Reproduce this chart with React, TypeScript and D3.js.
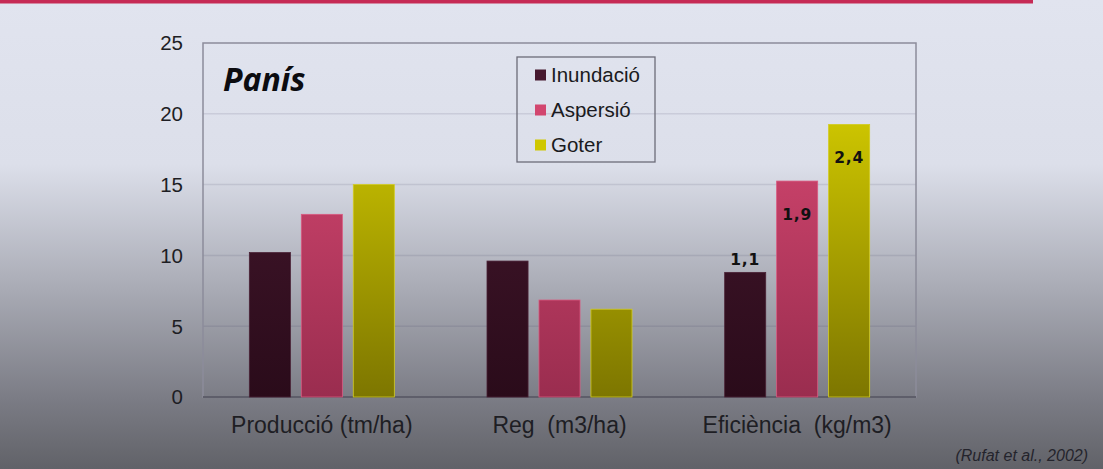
import { useEffect, useRef } from "react"
import * as d3 from "d3"

// categories and series
const categories = ["Producció (tm/ha)", "Reg  (m3/ha)", "Eficiència  (kg/m3)"]
const seriesNames = ["Inundació", "Aspersió", "Goter"]
const inundacio = [10.2, 9.6, 8.8]
const aspersio = [12.9, 6.85, 15.25]
const goter = [15.0, 6.2, 19.25]
const yTicks = [0, 5, 10, 15, 20, 25]
// efficiency labels on the last group
const effLabels = ["1,1", "1,9", "2,4"]

const topColors = ["#46182e", "#d2466f", "#cfc700"]
const bottomColors = ["#2a0b1a", "#9a2d4f", "#7d7600"]

export default function App() {
  const svgRef = useRef<SVGSVGElement>(null)

  useEffect(() => {
    if (!svgRef.current) return
    document.body.style.margin = "0"

    const W = 1103
    const H = 469
    const svg = d3.select(svgRef.current)
    svg.selectAll("*").remove()

    const defs = svg.append("defs")

    // page background gradient
    const bg = defs
      .append("linearGradient")
      .attr("id", "bg")
      .attr("x1", 0)
      .attr("y1", 0)
      .attr("x2", 0)
      .attr("y2", 1)
    bg.append("stop").attr("offset", 0).attr("stop-color", "#e1e4ef")
    bg.append("stop").attr("offset", 0.35).attr("stop-color", "#dcdfea")
    bg.append("stop").attr("offset", 0.6).attr("stop-color", "#acaeb8")
    bg.append("stop").attr("offset", 0.85).attr("stop-color", "#7b7c85")
    bg.append("stop").attr("offset", 1).attr("stop-color", "#616268")

    svg.append("rect").attr("width", W).attr("height", H).attr("fill", "url(#bg)")

    // red rule at the top
    svg
      .append("rect")
      .attr("x", 0)
      .attr("y", 0)
      .attr("width", 1033)
      .attr("height", 3.5)
      .attr("fill", "#c62a55")

    const margin = { top: 43, left: 203, right: W - 916, bottom: H - 397 }
    const width = W - margin.left - margin.right
    const height = H - margin.top - margin.bottom

    const g = svg.append("g").attr("transform", `translate(${margin.left},${margin.top})`)

    const y = d3.scaleLinear().domain([0, 25]).range([height, 0])
    const x0 = d3.scaleBand().domain(categories).range([0, width]).padding(0)
    const x1 = d3.scaleBand().domain(seriesNames).range([-72.5, 72.5]).paddingInner(0.21)

    // bar gradients (darken toward the bottom like the photo)
    seriesNames.forEach((s, i) => {
      const lg = defs
        .append("linearGradient")
        .attr("id", `bar${i}`)
        .attr("gradientUnits", "userSpaceOnUse")
        .attr("x1", 0)
        .attr("y1", y(20))
        .attr("x2", 0)
        .attr("y2", y(0))
      lg.append("stop").attr("offset", 0).attr("stop-color", topColors[i])
      lg.append("stop").attr("offset", 1).attr("stop-color", bottomColors[i])
    })

    // gridlines
    g.selectAll(".grid")
      .data(yTicks.filter((t) => t > 0 && t < 25))
      .enter()
      .append("line")
      .attr("x1", 0)
      .attr("x2", width)
      .attr("y1", (d) => y(d))
      .attr("y2", (d) => y(d))
      .attr("stroke", "rgba(60,60,90,0.12)")
      .attr("stroke-width", 1.5)

    // plot frame
    g.append("rect")
      .attr("x", 0)
      .attr("y", 0)
      .attr("width", width)
      .attr("height", height)
      .attr("fill", "none")
      .attr("stroke", "#8c8c9a")
      .attr("stroke-width", 1.5)

    g.append("line")
      .attr("x1", 0)
      .attr("x2", width)
      .attr("y1", height)
      .attr("y2", height)
      .attr("stroke", "#50505c")
      .attr("stroke-width", 1.5)

    // y tick labels
    g.selectAll(".ytick")
      .data(yTicks)
      .enter()
      .append("text")
      .attr("x", -20)
      .attr("y", (d) => y(d))
      .attr("dy", "0.36em")
      .attr("text-anchor", "end")
      .style("font-family", "'Liberation Sans', Arial, sans-serif")
      .style("font-size", "20.5px")
      .attr("fill", "#1e1e24")
      .text((d) => d)

    // category labels
    g.selectAll(".xlab")
      .data(categories)
      .enter()
      .append("text")
      .attr("x", (d) => (x0(d) as number) + x0.bandwidth() / 2)
      .attr("y", height + 36)
      .attr("text-anchor", "middle")
      .style("font-family", "'Liberation Sans', Arial, sans-serif")
      .style("font-size", "23px")
      .style("white-space", "pre")
      .attr("xml:space", "preserve")
      .attr("fill", "#1e1e24")
      .text((d) => d)

    const values = [inundacio, aspersio, goter]
    const bars = categories.flatMap((c, ci) =>
      seriesNames.map((s, si) => ({ c, s, si, ci, v: values[si][ci] }))
    )

    g.selectAll(".bar")
      .data(bars)
      .enter()
      .append("rect")
      .attr("x", (d) => (x0(d.c) as number) + x0.bandwidth() / 2 + (x1(d.s) as number))
      .attr("width", x1.bandwidth())
      .attr("y", (d) => y(d.v))
      .attr("height", (d) => height - y(d.v))
      .attr("fill", (d) => `url(#bar${d.si})`)
      .attr("stroke", (d) => (d.si === 1 ? "#d95a80" : d.si === 2 ? "#d3cc20" : "#4a2236"))
      .attr("stroke-width", 0.8)

    // efficiency labels
    const lastCat = categories[2]
    g.selectAll(".eff")
      .data(effLabels)
      .enter()
      .append("text")
      .attr(
        "x",
        (d, i) => (x0(lastCat) as number) + x0.bandwidth() / 2 + (x1(seriesNames[i]) as number) + x1.bandwidth() / 2
      )
      .attr("y", (d, i) => (i === 0 ? y(values[i][2]) - 7 : y(values[i][2]) + 39))
      .attr("text-anchor", "middle")
      .style("font-family", "'DejaVu Sans', Verdana, sans-serif")
      .style("font-weight", "bold")
      .style("font-size", "15.5px")
      .style("letter-spacing", "0.8px")
      .attr("fill", "#111")
      .text((d) => d)

    // title
    g.append("text")
      .attr("x", 20)
      .attr("y", 48)
      .style("font-family", "'Open Sans', sans-serif")
      .style("font-weight", "bold")
      .style("font-style", "italic")
      .style("font-size", "32px")
      .attr("fill", "#0c0c10")
      .text("Panís")

    // legend
    const legend = svg.append("g").attr("transform", "translate(517,57)")
    legend
      .append("rect")
      .attr("width", 138)
      .attr("height", 105)
      .attr("fill", "none")
      .attr("stroke", "#6c6c78")
      .attr("stroke-width", 1.3)
    seriesNames.forEach((s, i) => {
      const cy = 18 + i * 35
      legend
        .append("rect")
        .attr("x", 18)
        .attr("y", cy - 5.5)
        .attr("width", 11)
        .attr("height", 11)
        .attr("fill", topColors[i])
      legend
        .append("text")
        .attr("x", 34)
        .attr("y", cy)
        .attr("dy", "0.36em")
        .style("font-family", "'Liberation Sans', Arial, sans-serif")
        .style("font-size", "20.5px")
        .attr("fill", "#1a1a20")
        .text(s)
    })

    // citation
    svg
      .append("text")
      .attr("x", 1088)
      .attr("y", 461)
      .attr("text-anchor", "end")
      .style("font-family", "'Liberation Sans', Arial, sans-serif")
      .style("font-style", "italic")
      .style("font-size", "16px")
      .attr("fill", "#24242c")
      .text("(Rufat et al., 2002)")
  }, [])

  return (
    <svg
      ref={svgRef}
      width={1103}
      height={469}
      style={{ position: "absolute", left: 0, top: 0, display: "block" }}
    ></svg>
  )
}
